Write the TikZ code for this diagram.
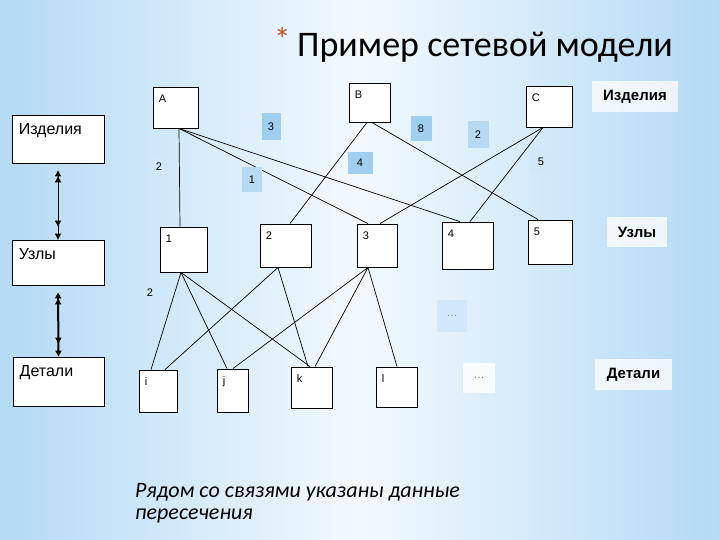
\documentclass[tikz,border=0pt]{standalone}
\usepackage{fontspec}
\setmainfont{Liberation Sans}
\newfontfamily\calfont{Carlito}
\usetikzlibrary{arrows.meta}
\definecolor{bgedge}{RGB}{180,218,245}
\definecolor{bgmid}{RGB}{242,249,254}
\definecolor{lblA}{RGB}{160,206,240}
\definecolor{lblB}{RGB}{182,218,244}
\definecolor{lblC}{RGB}{208,232,249}
\definecolor{starcol}{RGB}{190,85,45}
\tikzset{
  box/.style={draw=black, line width=0.9pt, fill=white, inner sep=0pt},
  txt/.style={anchor=north west, inner sep=0pt, xshift=6pt, yshift=-8pt, font=\fontsize{11}{13}\selectfont},
  bigtxt/.style={anchor=north west, inner sep=0pt, xshift=7pt, yshift=-9pt, font=\fontsize{16}{18}\selectfont},
  link/.style={draw=black, line width=0.7pt},
  elbl/.style={inner sep=0pt, font=\fontsize{11}{13}\selectfont},
  side/.style={fill=white, fill opacity=0.75, text opacity=1, inner sep=0pt, font=\bfseries\fontsize{15}{18}\selectfont},
  twotips/.style={{Triangle[length=6pt,width=6pt,sep=7pt]Triangle[length=6pt,width=6pt]}-{Triangle[length=6pt,width=6pt,sep=7pt]Triangle[length=6pt,width=6pt]}},
}
\begin{document}
\begin{tikzpicture}[x=1pt,y=-1pt]
\useasboundingbox (0,0) rectangle (720,540);
\shade[left color=bgedge, right color=bgedge, middle color=bgmid] (0,0) rectangle (720,540);
% title
\node[anchor=base west, inner sep=0pt, font=\calfont\fontsize{36}{40}\selectfont] (title) at (297,57) {Пример сетевой модели};
\node[anchor=base east, inner sep=0pt, text=starcol, font=\calfont\fontsize{34}{36}\selectfont] (star) at (291,52) {*};
% left column
\node[box, minimum width=92pt, minimum height=48pt, label={[bigtxt]north west:Изделия}] (LI) at (58,139) {};
\node[box, minimum width=92pt, minimum height=45pt, label={[bigtxt]north west:Узлы}] (LU) at (58,262.5) {};
\node[box, minimum width=91pt, minimum height=49pt, label={[bigtxt]north west:Детали}] (LD) at (58.5,381.5) {};
\draw[line width=1pt, twotips] (LI.south) -- (LU.north);
\draw[line width=2pt, twotips] (LU.south) -- (LD.north);
% products
\node[box, minimum width=45pt, minimum height=41pt, label={[txt]north west:A}] (A) at (175.5,107.5) {};
\node[box, minimum width=41pt, minimum height=39pt, label={[txt]north west:B}] (B) at (369.5,102.5) {};
\node[box, minimum width=46pt, minimum height=41pt, label={[txt]north west:C}] (C) at (549,106.5) {};
% assemblies
\node[box, minimum width=47pt, minimum height=45pt, label={[txt]north west:1}] (N1) at (183.5,249.5) {};
\node[box, minimum width=51pt, minimum height=43pt, label={[txt]north west:2}] (N2) at (285.5,245.5) {};
\node[box, minimum width=40pt, minimum height=43pt, label={[txt]north west:3}] (N3) at (377,245.5) {};
\node[box, minimum width=51pt, minimum height=47pt, label={[txt]north west:4}] (N4) at (467.5,245.5) {};
\node[box, minimum width=44pt, minimum height=44pt, label={[txt]north west:5}] (N5) at (550,242) {};
% parts
\node[box, minimum width=38pt, minimum height=42pt, label={[txt]north west:i}] (Pi) at (158,391) {};
\node[box, minimum width=31pt, minimum height=43pt, label={[txt]north west:j}] (Pj) at (232.5,390.5) {};
\node[box, minimum width=41pt, minimum height=41pt, label={[txt]north west:k}] (Pk) at (311.5,387.5) {};
\node[box, minimum width=41pt, minimum height=40pt, label={[txt]north west:l}] (Pl) at (396.5,387) {};
% links level 1-2
\draw[link] ([xshift=3.5pt]A.south) -- ([xshift=-3.5pt]N1.north);
\draw[link] ([xshift=3.5pt]A.south) -- ([xshift=-9pt]N3.north);
\draw[link] ([xshift=3.5pt]A.south) -- ([xshift=-7.5pt]N4.north);
\draw[link] ([xshift=-2.5pt]B.south) -- ([xshift=4.5pt]N2.north);
\draw[link] ([xshift=2.5pt]B.south) -- ([xshift=-12pt]N5.north);
\draw[link] ([xshift=-6pt]C.south) -- ([xshift=3pt]N3.north);
\draw[link] ([xshift=-6pt]C.south) -- ([xshift=2.5pt]N4.north);
% links level 2-3
\draw[link] ([xshift=-2.5pt]N1.south) -- ([xshift=-7pt]Pi.north);
\draw[link] ([xshift=-2.5pt]N1.south) -- ([xshift=-5.5pt]Pj.north);
\draw[link] ([xshift=-2.5pt]N1.south) -- ([xshift=-1.5pt]Pk.north);
\draw[link] ([xshift=-7.5pt]N2.south) -- ([xshift=7pt]Pi.north);
\draw[link] ([xshift=-7.5pt]N2.south) -- ([xshift=-3.5pt]Pk.north);
\draw[link] ([xshift=-9pt]N3.south) -- ([xshift=0.5pt]Pj.north);
\draw[link] ([xshift=-9pt]N3.south) -- ([xshift=3.5pt]Pk.north);
\draw[link] ([xshift=-9pt]N3.south) -- ([xshift=0.5pt]Pl.north);
% edge labels
\node[elbl, fill=lblA, minimum width=19pt, minimum height=27pt] (e3) at (271,127) {3};
\node[elbl, fill=lblC, minimum width=15pt, minimum height=21pt] (e2a) at (159,167) {2};
\node[elbl, fill=lblB, minimum width=20pt, minimum height=25pt] (e1) at (252,180) {1};
\node[elbl, fill=lblA, minimum width=25pt, minimum height=22pt] (e4) at (360,163) {4};
\node[elbl, fill=lblA, minimum width=21pt, minimum height=25pt] (e8) at (421,129) {8};
\node[elbl, fill=lblB, minimum width=21pt, minimum height=27pt] (e2c) at (478,135) {2};
\node[elbl, fill=lblC, minimum width=22pt, minimum height=24pt] (e5) at (541,162) {5};
\node[elbl] (e2b) at (150,293) {2};
\node[elbl, fill=lblC, minimum width=30pt, minimum height=32pt, text=gray] (dots1) at (452,316) {\ldots};
\node[elbl, fill=white, fill opacity=0.8, text opacity=1, minimum width=32pt, minimum height=30pt, text=gray] (dots2) at (479,378) {\ldots};
% side labels
\node[side, minimum width=86pt, minimum height=31pt] (RI) at (635,96.5) {Изделия};
\node[side, minimum width=60pt, minimum height=30pt] (RU) at (637,232) {Узлы};
\node[side, minimum width=77pt, minimum height=31pt] (RD) at (633.5,374.5) {Детали};
% note
\node[anchor=north west, align=left, inner sep=0pt, font=\calfont\itshape\fontsize{22}{22}\selectfont] (note) at (135,483) {Рядом со связями указаны данные\\пересечения};
\end{tikzpicture}
\end{document}
